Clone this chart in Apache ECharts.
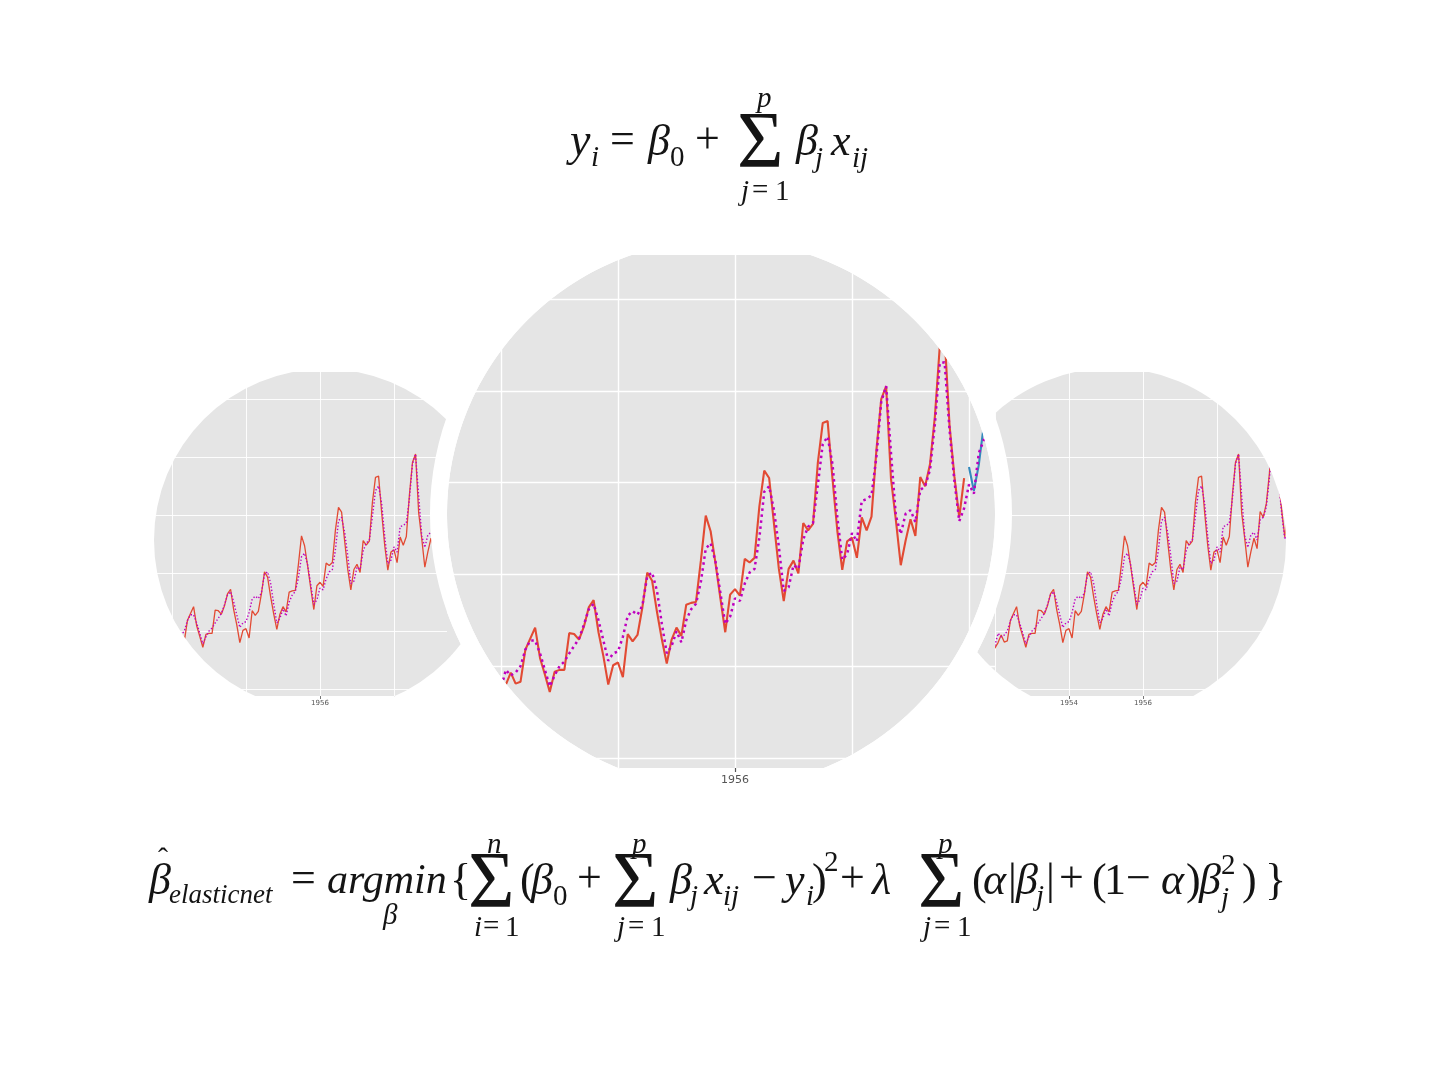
<!DOCTYPE html>
<html><head><meta charset="utf-8">
<script src="https://cdn.jsdelivr.net/npm/echarts@6/dist/echarts.min.js"></script>
<style>html,body{margin:0;padding:0;background:#fff}#c{width:1439px;height:1079px}</style>
</head><body><div id="c"></div>
<script>
// ---------------- data ----------------
const startYear = 1949;            // monthly series, Jan 1949 ...
const passengers = [               // training part (red), 1949-1959
112,118,132,129,121,135,148,148,136,119,104,118,
115,126,141,135,125,149,170,170,158,133,114,140,
145,150,178,163,172,178,199,199,184,162,146,166,
171,180,193,181,183,218,230,242,209,191,172,194,
196,196,236,235,229,243,264,272,237,211,180,201,
204,188,235,227,234,264,302,293,259,229,203,229,
242,233,267,269,270,315,364,347,312,274,237,278,
284,277,317,313,318,374,413,405,355,306,271,306,
315,301,356,348,355,422,465,467,404,347,305,336,
340,318,362,348,363,435,491,505,404,359,310,337,
360,342,406,396,420,472,548,559,463,407,362,405];
const testStartYear = 1960;
const testPassengers = [417,391,419,461,472,535,622,606,508,461,390,432]; // blue
const predicted = [                // fitted values (magenta dotted), 1949-1960
110,114,125,131,125,126,140,150,145,130,113,110,
117,119,130,140,132,128,150,168,167,152,128,122,
140,146,152,172,165,170,182,198,196,178,156,153,
176,196,190,193,200,218,228,228,214,196,178,190,
200,205,214,222,230,245,262,268,250,228,206,214,
216,232,255,260,256,266,298,302,282,246,214,222,
238,226,250,262,268,292,328,334,314,280,246,254,
274,271,290,302,306,340,390,396,370,330,282,286,
310,306,338,352,356,398,442,450,420,362,316,322,
345,336,380,382,386,428,488,505,432,364,344,366,
370,357,392,396,414,464,530,531,458,402,358,372,
398,388,432,446,466,512,580,600,522,456,408,420];

// ---------------- layout ----------------
const MID   = {cx:721,  cy:514, r:274, gap:17, top:255, bottom:768, x1956:735,  pxYear:58.5, y600:299, pxUnit:0.918};
const LEFT  = {cx:325,  cy:540, r:171, top:372, bottom:696, x1956:320,  pxYear:37, y600:399, pxUnit:0.58};
const RIGHT = {cx:1112, cy:542, r:174, top:372, bottom:696, x1956:1143, pxYear:37, y600:399, pxUnit:0.58};

const RED='#E24A33', BLUE='#348ABD', MAG='#BF00BF', BG='#E5E5E5';

const trainData = passengers.map((v,i)=>[startYear + i/12, v]);
const testData  = testPassengers.map((v,i)=>[testStartYear + i/12, v]);
const predData  = predicted.map((v,i)=>[startYear + i/12, v]);

const grids=[], xAxes=[], yAxes=[], series=[];
function addChart(g, zl, big){
  const idx = grids.length;
  const left = g.cx - g.r, right = g.cx + g.r;
  grids.push({left:left, top:g.top, width:right-left, height:g.bottom-g.top, show:true,
    backgroundColor:BG, borderWidth:0, zlevel:zl, z:0, containLabel:false});
  xAxes.push({type:'value', gridIndex:idx, zlevel:zl,
    min: 1956 + (left - g.x1956)/g.pxYear, max: 1956 + (right - g.x1956)/g.pxYear,
    axisLine:{show:false},
    axisTick:{show:true, length: big?4:3, lineStyle:{color:'#555', width: big?1.2:0.8}},
    axisLabel:{show:true, fontSize: big?11:7, color:'#555', margin: big?7:4, fontFamily:'DejaVu Sans',
      showMinLabel:false, showMaxLabel:false, hideOverlap:false, formatter:(v)=>String(Math.round(v))},
    splitLine:{show:true, showMinLine:false, showMaxLine:false, lineStyle:{color:'#fff', width: big?1.4:0.9}}});
  yAxes.push({type:'value', gridIndex:idx, zlevel:zl,
    min: 600 - (g.bottom - g.y600)/g.pxUnit, max: 600 + (g.y600 - g.top)/g.pxUnit,
    axisLine:{show:false}, axisTick:{show:false}, axisLabel:{show:false},
    splitLine:{show:true, showMinLine:false, showMaxLine:false, lineStyle:{color:'#fff', width: big?1.4:0.9}}});
  const lw = big?2.1:1.3, dw = big?2.5:1.4;
  const common = {type:'line', xAxisIndex:idx, yAxisIndex:idx, showSymbol:false, symbol:'none',
    silent:true, clip:true, animation:false, zlevel:zl, z:2};
  series.push(Object.assign({}, common, {data:trainData, lineStyle:{color:RED, width:lw}}));
  series.push(Object.assign({}, common, {data:testData, lineStyle:{color:BLUE, width:lw}}));
  series.push(Object.assign({}, common, {data:predData, lineStyle:{color:MAG, width:dw, type:[dw, dw*1.4], cap:'butt'}}));
}
addChart(LEFT, 0, false);
addChart(RIGHT, 0, false);
addChart(MID, 1, true);

// ---------------- masks ----------------
const graphics = [];
[LEFT, RIGHT].forEach(g=>{
  graphics.push({type:'ring', zlevel:0, z:100, silent:true,
    shape:{cx:g.cx, cy:g.cy, r:g.r+120, r0:g.r}, style:{fill:'#fff'}});
});
function halfMask(side){
  const T=226, B=808, L = MID.cx + side*MID.r, R2 = MID.r + MID.gap;
  const sm = side<0 ? LEFT : RIGHT;
  const yr = x => MID.cy + Math.sqrt(Math.max(0, R2*R2 - (x-MID.cx)*(x-MID.cx)));
  const ys = x => { const d = sm.r*sm.r - (x-sm.cx)*(x-sm.cx); return d<0 ? -1e9 : Math.min(sm.bottom, sm.cy + Math.sqrt(d)); };
  const pts = [[MID.cx,T],[L,T]];
  if (ys(L) > yr(L)) {
    const up=[], lo=[];
    for (let k=0; k<80; k+=0.5){ const x = L - side*k; if (ys(x) <= yr(x)) break; up.push([x, yr(x)]); lo.push([x, ys(x)]); }
    pts.push(...up); pts.push(...lo.reverse());
  }
  pts.push([L,B],[MID.cx,B]);
  for (let i=0;i<=180;i++){ const t = i/180*Math.PI, th = Math.PI/2 - side*t;
    pts.push([MID.cx + MID.r*Math.cos(th), MID.cy + MID.r*Math.sin(th)]); }
  return {type:'polygon', zlevel:1, z:100, silent:true, shape:{points:pts}, style:{fill:'#fff'}};
}
graphics.push(halfMask(-1), halfMask(1));
// thin strips just outside the middle grid, where line ends may overflow the clip
graphics.push({type:'rect', zlevel:1, z:100, silent:true,
  shape:{x:MID.cx-MID.r-9, y:LEFT.bottom+1, width:9, height:110}, style:{fill:'#fff'}});
graphics.push({type:'rect', zlevel:1, z:100, silent:true,
  shape:{x:MID.cx+MID.r, y:226, width:9, height:178}, style:{fill:'#fff'}});
graphics.push({type:'ring', zlevel:1, z:101, silent:true,
  shape:{cx:MID.cx, cy:MID.cy, r:MID.r+MID.gap, r0:MID.r}, style:{fill:'#fff'}});

// ---------------- formulas ----------------
const FF = "'Liberation Serif','DejaVu Serif',serif";
function T(text, x, y, size, italic){
  graphics.push({type:'text', zlevel:2, z:10, silent:true,
    style:{text:text, x:x, y:y, font:(italic?'italic ':'')+size+'px '+FF, fill:'#141414',
      textAlign:'left', align:'left', textVerticalAlign:'middle', verticalAlign:'middle'}});
}
const M=44, S=29, BIG=80;
// y_i = beta_0 + sum_{j=1}^p beta_j x_ij
T('y',570,143,46,true); T('i',591,158,S,true);
T('=',610,141,M,false);
T('β',648,143,M,true); T('0',670,158,S,false);
T('+',695,141,M,false);
T('Σ',737,146,BIG,false); T('p',757,99,S,true);
T('j',741,192,S,true); T('=',752,191,S,false); T('1',775,192,S,false);
T('β',796,143,M,true); T('j',815,159,S,true);
T('x',831,143,M,true); T('ij',852,159,S,true);

// elastic net
const by=882;
T('β',149,by,M,true); T('ˆ',158,860,30,false); T('elasticnet',169,896,27,true);
T('=',291,by-2,M,false);
T('argmin',327,by,42,true); T('β',383,916,S,true);
T('{',450,by,M,false);
T('Σ',468,by+4,BIG,false); T('n',487,845,S,true);
T('i',474,928,S,true); T('=',483,927,S,false); T('1',505,928,S,false);
T('(',520,by,M,false); T('β',531,by,M,true); T('0',553,897,S,false);
T('+',577,by-2,M,false);
T('Σ',612,by+4,BIG,false); T('p',632,845,S,true);
T('j',617,928,S,true); T('=',628,927,S,false); T('1',651,928,S,false);
T('β',670,by,M,true); T('j',690,897,S,true);
T('x',704,by,M,true); T('ij',723,897,S,true);
T('−',752,by-2,M,false);
T('y',785,by,M,true); T('i',806,897,S,true);
T(')',812,by,M,false); T('2',824,863,S,false);
T('+',840,by-2,M,false);
T('λ',872,by,M,true);
T('Σ',918,by+4,BIG,false); T('p',938,845,S,true);
T('j',923,928,S,true); T('=',934,927,S,false); T('1',957,928,S,false);
T('(',972,by,M,false); T('α',983,by,M,true);
T('|',1008,by,M,false); T('β',1016,by,M,true); T('j',1036,897,S,true); T('|',1046,by,M,false);
T('+',1059,by-2,M,false);
T('(',1092,by,M,false); T('1',1104,by,M,false); T('−',1126,by-2,M,false);
T('α',1161,by,M,true); T(')',1186,by,M,false);
T('β',1199,by,M,true); T('2',1221,866,S,false); T('j',1221,899,S,true);
T(')',1242,by,M,false); T('}',1265,by,M,false);

const chart = echarts.init(document.getElementById('c'), null, {renderer:'canvas'});
chart.setOption({backgroundColor:'#fff', animation:false,
  grid:grids, xAxis:xAxes, yAxis:yAxes, series:series, graphic:{elements:graphics}});
</script></body></html>
